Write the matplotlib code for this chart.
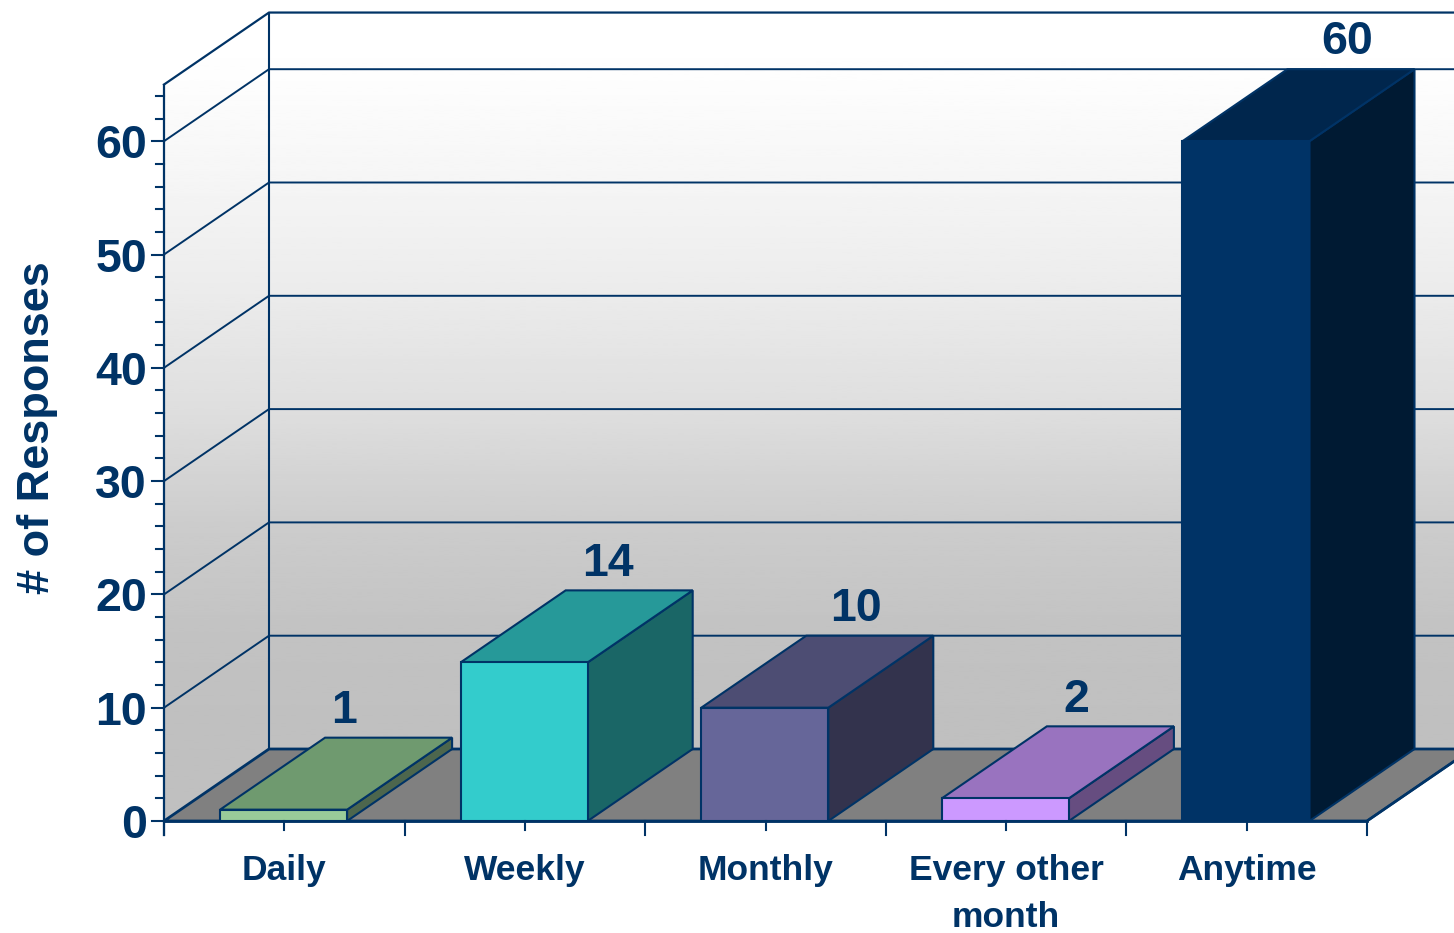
import numpy as np
import matplotlib
matplotlib.use("Agg")
import matplotlib.pyplot as plt
from matplotlib.patches import Polygon

# data
categories = ["Daily", "Weekly", "Monthly", "Every other\nmonth", "Anytime"]
responses = [1, 14, 10, 2, 60]

# styles
navy = "#003366"
front_colors = ["#99CC99", "#33CCCC", "#666699", "#CC99FF", "#003366"]
top_colors = ["#6F9A6F", "#269999", "#4D4D73", "#9973BF", "#00264D"]
side_colors = ["#4D664D", "#1A6666", "#33334D", "#664D80", "#001A33"]
label_shift = [0.25, 0.345, 0.375, 0.29, 0.417]

plt.rcParams["font.family"] = ["Liberation Sans", "DejaVu Sans"]
plt.rcParams["font.weight"] = "bold"

# one category = 240.6 px, one response = 11.33 px
px_x = 240.6
px_y = 11.33
depth_x = 105 / px_x
depth_y = 72 / px_y
y_top = 65
n = len(categories)
bar_w = 0.528

fig = plt.figure(figsize=(14.54, 9.33), dpi=100)
ax = fig.add_axes([0, 0, 1, 1])
xlim = (-164 / px_x, (1454 - 164) / px_x)
ylim = ((821 - 933) / px_y, 821 / px_y)

# walls with the grey gradient
grad_y = np.linspace(-3, y_top + depth_y, 300)
grad_stops_y = [0, 6.35, 16, 26, 36, 46, 56, 66, 71.35]
grad_stops_v = [0.75, 0.75, 0.76, 0.80, 0.87, 0.92, 0.96, 0.995, 1.0]
grad = np.interp(grad_y, grad_stops_y, grad_stops_v).reshape(-1, 1)
back = Polygon([(0 + depth_x, depth_y), (n + depth_x, depth_y),
                (n + depth_x, y_top + depth_y), (depth_x, y_top + depth_y)],
               closed=True, transform=ax.transData, fc="none", ec="none")
left = Polygon([(0, 0), (depth_x, depth_y), (depth_x, y_top + depth_y), (0, y_top)],
               closed=True, transform=ax.transData, fc="none", ec="none")
for wall in (back, left):
    ax.add_patch(wall)
    im = ax.imshow(grad, extent=(0, n + depth_x, -3, y_top + depth_y), origin="lower",
                   cmap="gray", vmin=0, vmax=1, aspect="auto", zorder=1)
    im.set_clip_path(wall)

# floor
ax.add_patch(Polygon([(0, 0), (n, 0), (n + depth_x, depth_y), (depth_x, depth_y)],
                     closed=True, fc="#808080", ec=navy, lw=2.0, zorder=2))

# grid on both walls
for v in range(10, 70, 10):
    ax.plot([0, depth_x, n + depth_x], [v, v + depth_y, v + depth_y], color=navy, lw=1.4, zorder=2)
ax.plot([0, depth_x, n + depth_x], [y_top, y_top + depth_y, y_top + depth_y], color=navy, lw=1.6, zorder=2)
ax.plot([depth_x, depth_x], [depth_y, y_top + depth_y], color=navy, lw=1.5, zorder=2)

# bars
for i, val in enumerate(responses):
    x0 = i + 0.497 - bar_w / 2
    x1 = i + 0.497 + bar_w / 2
    ax.add_patch(Polygon([(x1, 0), (x1 + depth_x, depth_y), (x1 + depth_x, val + depth_y), (x1, val)],
                         closed=True, fc=side_colors[i], ec=navy, lw=1.5, zorder=3))
    ax.add_patch(Polygon([(x0, val), (x1, val), (x1 + depth_x, val + depth_y), (x0 + depth_x, val + depth_y)],
                         closed=True, fc=top_colors[i], ec=navy, lw=1.5, zorder=3))
    ax.add_patch(Polygon([(x0, 0), (x1, 0), (x1, val), (x0, val)],
                         closed=True, fc=front_colors[i], ec=navy, lw=1.5, zorder=3))
    ax.text(i + 0.5 + label_shift[i], val + depth_y + 1.3, str(val), color=navy, fontsize=33.5,
            ha="center", va="baseline", zorder=5)

# front axes and ticks
ax.plot([0, 0], [-14 / px_y, y_top], color=navy, lw=1.6, zorder=4)
ax.plot([0, n], [0, 0], color=navy, lw=2.0, zorder=4)
ax.plot([n, n + depth_x], [0, depth_y], color=navy, lw=1.7, zorder=4)
for v in range(0, y_top, 2):
    tick = 12 if v % 10 == 0 else 8
    ax.plot([-tick / px_x, 0], [v, v], color=navy, lw=1.5, zorder=4)
    if v % 10 == 0:
        ax.text(-17 / px_x, v, str(v), color=navy, fontsize=33.5, ha="right", va="center_baseline")
for i in range(n + 1):
    ax.plot([i, i], [0, -14 / px_y], color=navy, lw=1.5, zorder=4)
for i, cat in enumerate(categories):
    ax.plot([i + 0.5, i + 0.5], [0, -9 / px_y], color=navy, lw=1.5, zorder=4)
    for k, part in enumerate(cat.split("\n")):
        ax.text(i + 0.5, (-59 - 47 * k) / px_y, part, color=navy, fontsize=25.5, ha="center", va="baseline")

ax.text(-130 / px_x, (821 - 428) / px_y, "# of Responses", color=navy, fontsize=32.5,
        rotation=90, ha="center", va="center")
ax.texts[-1].set_x(-127 / px_x)

ax.set_xlim(xlim)
ax.set_ylim(ylim)
ax.axis("off")
fig.savefig("out.png", dpi=100, facecolor="white")
